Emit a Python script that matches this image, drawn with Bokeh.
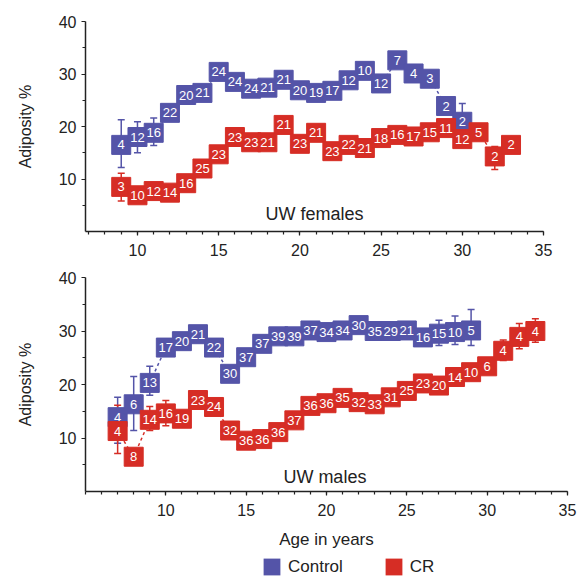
from bokeh.plotting import figure
from bokeh.models import (FixedTicker, ColumnDataSource, Whisker, TeeHead, Legend,
                          LegendItem, Label)
from bokeh.layouts import column
from bokeh.embed import file_html
from bokeh.resources import INLINE
from bokeh.core.properties import value

# ---------------- data ----------------
# UW females
f_ctrl_age = list(range(9, 31))
f_ctrl_adip = [16.5, 18.0, 18.8, 22.6, 26.0, 26.4, 30.4, 28.5, 27.2, 27.4, 28.9,
               26.9, 26.4, 26.8, 28.8, 30.6, 28.2, 32.6, 30.1, 29.1, 23.9, 20.9]
f_ctrl_n = [4, 12, 16, 22, 20, 21, 24, 24, 24, 21, 21, 20, 19, 17, 12, 10, 12, 7, 4, 3, 2, 2]

f_cr_age = list(range(9, 34))
f_cr_adip = [8.5, 6.9, 7.7, 7.4, 9.2, 12.0, 14.7, 18.0, 17.0, 17.0, 20.3, 16.7, 18.8,
             15.3, 16.5, 15.9, 17.8, 18.4, 18.1, 18.9, 19.7, 17.6, 18.9, 14.3, 16.5]
f_cr_n = [3, 10, 12, 14, 16, 25, 23, 23, 23, 21, 21, 23, 21, 23, 22, 21, 18, 16, 17,
          15, 11, 12, 5, 2, 2]

f_ctrl_err_age = [9, 10, 11, 30]
f_ctrl_err_lo = [12.2, 15.0, 16.4, 17.4]
f_ctrl_err_hi = [21.3, 20.9, 21.6, 24.4]
f_cr_err_age = [9, 32]
f_cr_err_lo = [5.8, 11.8]
f_cr_err_hi = [11.1, 16.2]

# UW males
m_ctrl_age = list(range(7, 30))
m_ctrl_adip = [13.9, 16.3, 20.3, 26.9, 28.1, 29.4, 26.9, 22.0, 25.1, 27.6, 29.0, 29.0,
               30.1, 29.8, 30.1, 31.1, 30.0, 30.0, 30.1, 28.8, 29.5, 29.8, 30.1]
m_ctrl_n = [4, 6, 13, 17, 20, 21, 22, 30, 37, 37, 39, 39, 37, 34, 34, 30, 35, 29, 21,
            16, 15, 10, 5]

m_cr_age = list(range(7, 34))
m_cr_adip = [11.3, 6.5, 13.4, 14.6, 13.6, 17.1, 15.8, 11.4, 9.5, 9.8, 11.1, 13.3, 16.0,
             16.5, 17.5, 16.7, 16.3, 17.6, 18.8, 20.2, 19.8, 21.4, 22.3, 23.4, 26.3,
             28.9, 30.0]
m_cr_n = [4, 8, 14, 16, 19, 23, 24, 32, 36, 36, 36, 37, 36, 36, 35, 32, 33, 31, 25, 23,
          20, 14, 10, 6, 4, 4, 4]

m_ctrl_err_age = [7, 8, 9, 27, 28, 29]
m_ctrl_err_lo = [9.0, 11.4, 18.0, 27.3, 27.5, 27.3]
m_ctrl_err_hi = [17.6, 21.5, 23.4, 32.0, 32.8, 34.0]
m_cr_err_age = [7, 9, 10, 31, 32, 33]
m_cr_err_lo = [7.1, 11.4, 12.3, 24.5, 26.7, 27.9]
m_cr_err_hi = [16.1, 15.9, 17.0, 28.3, 31.4, 32.3]

y_major = [10, 20, 30, 40]
y_minor = [5, 15, 25, 35]
x_major = [10, 15, 20, 25, 30, 35]
legend_labels = ["Control", "CR"]

BLUE = "#5454a8"
RED = "#d62d25"
FONT = "Liberation Sans"
AXIS_COLOR = "#222222"


def style(p, x_minor):
    p.outline_line_color = None
    p.xgrid.grid_line_color = None
    p.ygrid.grid_line_color = None
    p.xaxis.ticker = FixedTicker(ticks=x_major, minor_ticks=x_minor)
    p.yaxis.ticker = FixedTicker(ticks=y_major, minor_ticks=y_minor)
    for ax in (p.xaxis[0], p.yaxis[0]):
        ax.axis_line_color = AXIS_COLOR
        ax.axis_line_width = 1.5
        ax.major_tick_line_color = AXIS_COLOR
        ax.minor_tick_line_color = AXIS_COLOR
        ax.major_tick_line_width = 1.2
        ax.minor_tick_line_width = 1.2
        ax.major_tick_in = 0
        ax.major_tick_out = 4
        ax.minor_tick_in = 0
        ax.minor_tick_out = 3
        ax.major_label_text_font = FONT
        ax.major_label_text_font_size = "16px"
        ax.major_label_text_color = "#222222"
        ax.major_label_standoff = 5
        ax.axis_label_text_font = FONT
        ax.axis_label_text_font_style = "normal"
        ax.axis_label_text_color = "#222222"
    p.xaxis.major_label_standoff = 8
    p.yaxis.axis_label = "Adiposity %"
    p.yaxis.axis_label_text_font_size = "16px"
    p.yaxis.axis_label_standoff = 22


def add_series(p, ages, adip, ns, color, e_age, e_lo, e_hi):
    src = ColumnDataSource(dict(x=ages, y=adip, n=[str(v) for v in ns]))
    p.line("x", "y", source=src, line_color=color, line_width=1.5, line_dash="3 3")
    esrc = ColumnDataSource(dict(x=e_age, lo=e_lo, hi=e_hi))
    p.add_layout(Whisker(base="x", lower="lo", upper="hi", source=esrc,
                         line_color=color, line_width=1.5,
                         upper_head=TeeHead(size=7, line_color=color, line_width=1.5),
                         lower_head=TeeHead(size=7, line_color=color, line_width=1.5)))
    r = p.scatter("x", "y", source=src, marker="square", size=19,
                  fill_color=color, line_color=color, line_width=1)
    p.text("x", "y", text="n", source=src, text_color="white",
           text_align="center", text_baseline="middle",
           text_font=value(FONT), text_font_size="13px")
    return r


# ---------------- top panel ----------------
p1 = figure(width=553, height=258, x_range=(6.8, 35), y_range=(0, 40),
            output_backend="svg", toolbar_location=None,
            min_border_left=85, min_border_right=10, min_border_top=21,
            min_border_bottom=25)
style(p1, list(range(7, 36)))
add_series(p1, f_ctrl_age, f_ctrl_adip, f_ctrl_n, BLUE,
           f_ctrl_err_age, f_ctrl_err_lo, f_ctrl_err_hi)
add_series(p1, f_cr_age, f_cr_adip, f_cr_n, RED,
           f_cr_err_age, f_cr_err_lo, f_cr_err_hi)
p1.add_layout(Label(x=20.9, y=3.3, text="UW females", text_align="center",
                    text_baseline="middle", text_font=FONT, text_font_size="18px",
                    text_color="#222222"))

# ---------------- bottom panel ----------------
p2 = figure(width=577, height=294, x_range=(5, 35), y_range=(0, 40),
            output_backend="svg", toolbar_location=None,
            min_border_left=84, min_border_right=10, min_border_top=19,
            min_border_bottom=61)
style(p2, list(range(5, 36)))
p2.xaxis.axis_label = "Age in years"
p2.xaxis.axis_label_text_font_size = "17px"
p2.xaxis.axis_label_standoff = 11
add_series(p2, m_ctrl_age, m_ctrl_adip, m_ctrl_n, BLUE,
           m_ctrl_err_age, m_ctrl_err_lo, m_ctrl_err_hi)
add_series(p2, m_cr_age, m_cr_adip, m_cr_n, RED,
           m_cr_err_age, m_cr_err_lo, m_cr_err_hi)
p2.add_layout(Label(x=19.9, y=2.8, text="UW males", text_align="center",
                    text_baseline="middle", text_font=FONT, text_font_size="18px",
                    text_color="#222222"))

# ---------------- legend strip ----------------
p3 = figure(width=577, height=25, x_range=(0, 1), y_range=(0, 1),
            output_backend="svg", toolbar_location=None,
            x_axis_location=None, y_axis_location=None, min_border=0)
p3.outline_line_color = None
p3.xgrid.grid_line_color = None
p3.ygrid.grid_line_color = None
# legend proxies: one off-screen swatch each, used only to draw the legend keys
proxy_b = ColumnDataSource(dict(l=[5], r=[6], t=[6], b=[5]))
proxy_r = ColumnDataSource(dict(l=[5], r=[6], t=[6], b=[5]))
qb = p3.quad(left="l", right="r", top="t", bottom="b", source=proxy_b,
             fill_color=BLUE, line_color=None)
qr = p3.quad(left="l", right="r", top="t", bottom="b", source=proxy_r,
             fill_color=RED, line_color=None)
legend = Legend(items=[LegendItem(label=legend_labels[0], renderers=[qb]),
                       LegendItem(label=legend_labels[1], renderers=[qr])],
                orientation="horizontal", location=(176, 0),
                glyph_width=21, glyph_height=21, label_standoff=6, spacing=40,
                padding=0, margin=0, border_line_color=None,
                background_fill_alpha=0, label_text_font=FONT,
                label_text_font_size="17px", label_text_color="#222222",
                label_height=21)
p3.add_layout(legend)

layout = column(p1, p2, p3)
open("out.html", "w").write(file_html(layout, INLINE))
